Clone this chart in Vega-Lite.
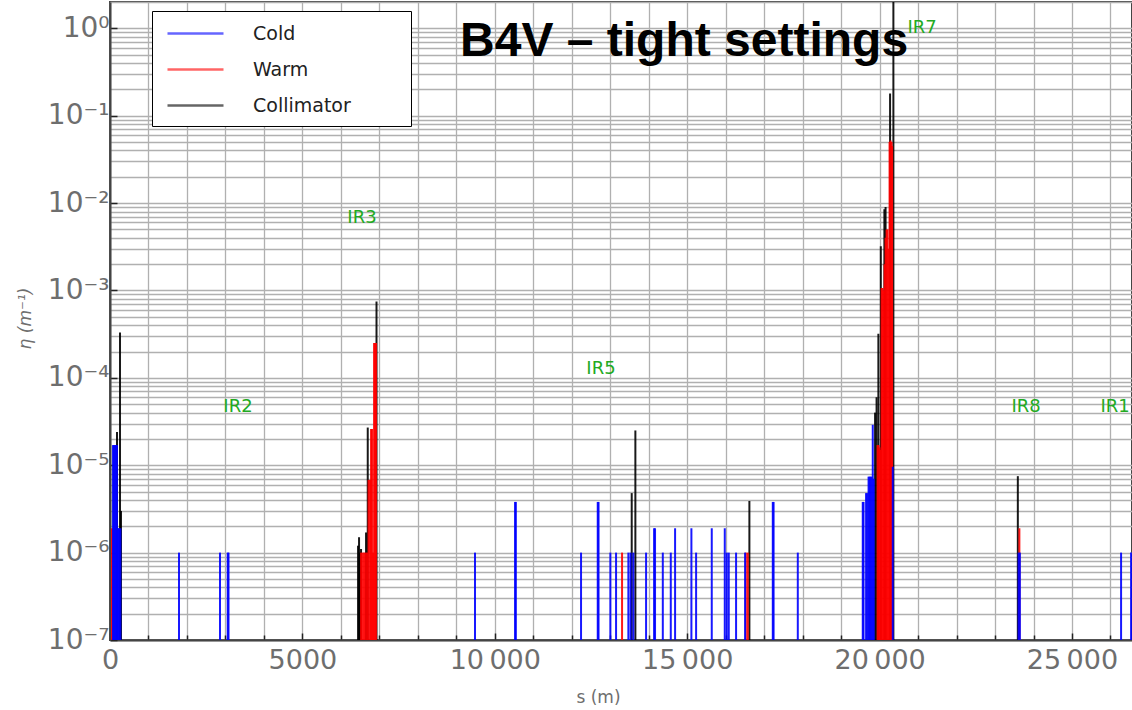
{
  "$schema": "https://vega.github.io/schema/vega-lite/v6.json",
  "width": 1022,
  "height": 638,
  "autosize": {"type": "none"},
  "padding": {"left": 110, "top": 2, "right": 0, "bottom": 70},
  "background": "white",
  "config": {
    "view": {"stroke": "#444444", "strokeWidth": 2},
    "font": "DejaVu Sans"
  },
  "datasets": {
    "losses": [
      {"s": 182, "eta": 2.4e-5, "type": "Collimator"},
      {"s": 260, "eta": 3.3e-4, "type": "Collimator"},
      {"s": 286, "eta": 3e-6, "type": "Collimator"},
      {"s": 6446, "eta": 1.2e-6, "type": "Collimator"},
      {"s": 6472, "eta": 1.5e-6, "type": "Collimator"},
      {"s": 6498, "eta": 1.0e-6, "type": "Collimator"},
      {"s": 6524, "eta": 1.1e-6, "type": "Collimator"},
      {"s": 6654, "eta": 1.7e-6, "type": "Collimator"},
      {"s": 6698, "eta": 2.7e-5, "type": "Collimator"},
      {"s": 6926, "eta": 7.5e-4, "type": "Collimator"},
      {"s": 13558, "eta": 4.8e-6, "type": "Collimator"},
      {"s": 13653, "eta": 2.5e-5, "type": "Collimator"},
      {"s": 16616, "eta": 3.9e-6, "type": "Collimator"},
      {"s": 19882, "eta": 4e-5, "type": "Collimator"},
      {"s": 19921, "eta": 6e-5, "type": "Collimator"},
      {"s": 19968, "eta": 3.2e-4, "type": "Collimator"},
      {"s": 20031, "eta": 3.2e-3, "type": "Collimator"},
      {"s": 20124, "eta": 8.5e-3, "type": "Collimator"},
      {"s": 20155, "eta": 9e-3, "type": "Collimator"},
      {"s": 20272, "eta": 0.18, "type": "Collimator"},
      {"s": 20358, "eta": 2.0, "type": "Collimator"},
      {"s": 23592, "eta": 7.5e-6, "type": "Collimator"},

      {"s": 52, "eta": 1.9e-6, "type": "Warm"},
      {"s": 6524, "eta": 1e-6, "type": "Warm"},
      {"s": 6563, "eta": 1e-6, "type": "Warm"},
      {"s": 6602, "eta": 1e-6, "type": "Warm"},
      {"s": 6641, "eta": 1e-6, "type": "Warm"},
      {"s": 6680, "eta": 1e-6, "type": "Warm"},
      {"s": 6719, "eta": 6.8e-6, "type": "Warm"},
      {"s": 6758, "eta": 6.8e-6, "type": "Warm"},
      {"s": 6784, "eta": 2.6e-5, "type": "Warm"},
      {"s": 6810, "eta": 2.6e-5, "type": "Warm"},
      {"s": 6836, "eta": 1e-6, "type": "Warm"},
      {"s": 6862, "eta": 2.5e-4, "type": "Warm"},
      {"s": 6888, "eta": 2.5e-4, "type": "Warm"},
      {"s": 6914, "eta": 2.5e-4, "type": "Warm"},
      {"s": 13307, "eta": 1e-6, "type": "Warm"},
      {"s": 16522, "eta": 1e-6, "type": "Warm"},
      {"s": 16574, "eta": 1e-6, "type": "Warm"},
      {"s": 19947, "eta": 1.7e-5, "type": "Warm"},
      {"s": 19973, "eta": 1.7e-5, "type": "Warm"},
      {"s": 19999, "eta": 1.6e-5, "type": "Warm"},
      {"s": 20025, "eta": 1.5e-5, "type": "Warm"},
      {"s": 20051, "eta": 1.07e-3, "type": "Warm"},
      {"s": 20077, "eta": 1.07e-3, "type": "Warm"},
      {"s": 20103, "eta": 1.0e-3, "type": "Warm"},
      {"s": 20129, "eta": 2e-3, "type": "Warm"},
      {"s": 20155, "eta": 4e-3, "type": "Warm"},
      {"s": 20181, "eta": 5e-3, "type": "Warm"},
      {"s": 20207, "eta": 5e-3, "type": "Warm"},
      {"s": 20233, "eta": 3e-3, "type": "Warm"},
      {"s": 20259, "eta": 0.05, "type": "Warm"},
      {"s": 20285, "eta": 0.052, "type": "Warm"},
      {"s": 20311, "eta": 0.05, "type": "Warm"},
      {"s": 20325, "eta": 0.045, "type": "Warm"},
      {"s": 23632, "eta": 1.9e-6, "type": "Warm"},

      {"s": 78, "eta": 1.7e-5, "type": "Cold"},
      {"s": 104, "eta": 1.7e-5, "type": "Cold"},
      {"s": 130, "eta": 1.7e-5, "type": "Cold"},
      {"s": 156, "eta": 1.7e-5, "type": "Cold"},
      {"s": 182, "eta": 1.7e-5, "type": "Cold"},
      {"s": 208, "eta": 1.9e-6, "type": "Cold"},
      {"s": 234, "eta": 1.9e-6, "type": "Cold"},
      {"s": 270, "eta": 1.9e-6, "type": "Cold"},
      {"s": 1793, "eta": 1e-6, "type": "Cold"},
      {"s": 2859, "eta": 1e-6, "type": "Cold"},
      {"s": 3059, "eta": 1e-6, "type": "Cold"},
      {"s": 3080, "eta": 1e-6, "type": "Cold"},
      {"s": 9486, "eta": 1e-6, "type": "Cold"},
      {"s": 10526, "eta": 3.8e-6, "type": "Cold"},
      {"s": 10547, "eta": 3.8e-6, "type": "Cold"},
      {"s": 12241, "eta": 1e-6, "type": "Cold"},
      {"s": 12675, "eta": 3.8e-6, "type": "Cold"},
      {"s": 12696, "eta": 3.8e-6, "type": "Cold"},
      {"s": 13003, "eta": 1e-6, "type": "Cold"},
      {"s": 13151, "eta": 1e-6, "type": "Cold"},
      {"s": 13471, "eta": 1e-6, "type": "Cold"},
      {"s": 13528, "eta": 1e-6, "type": "Cold"},
      {"s": 13601, "eta": 1e-6, "type": "Cold"},
      {"s": 13931, "eta": 1e-6, "type": "Cold"},
      {"s": 14139, "eta": 1.9e-6, "type": "Cold"},
      {"s": 14164, "eta": 1.9e-6, "type": "Cold"},
      {"s": 14366, "eta": 1e-6, "type": "Cold"},
      {"s": 14573, "eta": 1e-6, "type": "Cold"},
      {"s": 14685, "eta": 1.9e-6, "type": "Cold"},
      {"s": 15109, "eta": 1.9e-6, "type": "Cold"},
      {"s": 15231, "eta": 1e-6, "type": "Cold"},
      {"s": 15638, "eta": 1.9e-6, "type": "Cold"},
      {"s": 15976, "eta": 1.9e-6, "type": "Cold"},
      {"s": 16028, "eta": 1e-6, "type": "Cold"},
      {"s": 16080, "eta": 1e-6, "type": "Cold"},
      {"s": 16270, "eta": 1e-6, "type": "Cold"},
      {"s": 16504, "eta": 1e-6, "type": "Cold"},
      {"s": 17224, "eta": 3.8e-6, "type": "Cold"},
      {"s": 17245, "eta": 3.8e-6, "type": "Cold"},
      {"s": 17874, "eta": 1e-6, "type": "Cold"},
      {"s": 19562, "eta": 3.8e-6, "type": "Cold"},
      {"s": 19583, "eta": 3.8e-6, "type": "Cold"},
      {"s": 19648, "eta": 4.8e-6, "type": "Cold"},
      {"s": 19682, "eta": 4.8e-6, "type": "Cold"},
      {"s": 19713, "eta": 7.4e-6, "type": "Cold"},
      {"s": 19739, "eta": 7.4e-6, "type": "Cold"},
      {"s": 19765, "eta": 7.4e-6, "type": "Cold"},
      {"s": 19791, "eta": 7.4e-6, "type": "Cold"},
      {"s": 19822, "eta": 2.9e-5, "type": "Cold"},
      {"s": 19848, "eta": 7e-6, "type": "Cold"},
      {"s": 20342, "eta": 9.6e-6, "type": "Cold"},
      {"s": 23612, "eta": 1e-6, "type": "Cold"},
      {"s": 23645, "eta": 1e-6, "type": "Cold"},
      {"s": 26275, "eta": 1e-6, "type": "Cold"},
      {"s": 26535, "eta": 1e-6, "type": "Cold"}
    ],
    "regions": [
      {"s": 3326, "eta": 4.6e-5, "label": "IR2"},
      {"s": 6549, "eta": 6.7e-3, "label": "IR3"},
      {"s": 12760, "eta": 1.26e-4, "label": "IR5"},
      {"s": 21104, "eta": 1.0, "label": "IR7"},
      {"s": 23807, "eta": 4.6e-5, "label": "IR8"},
      {"s": 26120, "eta": 4.6e-5, "label": "IR1"}
    ],
    "heading": [
      {"s": 9096, "eta": 0.478, "label": "B4V – tight settings"}
    ]
  },
  "encoding": {
    "x": {
      "field": "s",
      "type": "quantitative",
      "scale": {"domain": [0, 26559], "nice": false, "zero": false},
      "axis": {
        "values": [0, 1000, 2000, 3000, 4000, 5000, 6000, 7000, 8000, 9000, 10000, 11000, 12000, 13000, 14000, 15000, 16000, 17000, 18000, 19000, 20000, 21000, 22000, 23000, 24000, 25000, 26000],
        "labelExpr": "datum.value % 5000 === 0 ? (datum.value >= 10000 ? format(floor(datum.value / 1000), 'd') + '\u2009000' : format(datum.value, 'd')) : ''",
        "grid": true,
        "gridColor": "#b0b0b0",
        "gridWidth": 1.3,
        "domainColor": "#444444",
        "domainWidth": 2,
        "tickColor": "#222222",
        "tickWidth": 1.5,
        "tickSize": {"condition": {"test": "datum.value % 5000 === 0", "value": -7}, "value": -5},
        "labelFontSize": 27,
        "labelColor": "#6e6e6e",
        "labelPadding": 14,
        "labelOverlap": false,
        "labelFlush": false,
        "title": "s (m)",
        "titleFontSize": 17,
        "titleFontWeight": "normal",
        "titleColor": "#6e6e6e",
        "titleX": 488,
        "titleY": 57,
        "titleBaseline": "middle"
      }
    },
    "y": {
      "field": "eta",
      "type": "quantitative",
      "scale": {"type": "log", "domain": [1e-7, 2], "nice": false},
      "axis": {
        "values": [1e-7, 2e-7, 3e-7, 4e-7, 5e-7, 6e-7, 7e-7, 8e-7, 9e-7,
                   1e-6, 2e-6, 3e-6, 4e-6, 5e-6, 6e-6, 7e-6, 8e-6, 9e-6,
                   1e-5, 2e-5, 3e-5, 4e-5, 5e-5, 6e-5, 7e-5, 8e-5, 9e-5,
                   1e-4, 2e-4, 3e-4, 4e-4, 5e-4, 6e-4, 7e-4, 8e-4, 9e-4,
                   1e-3, 2e-3, 3e-3, 4e-3, 5e-3, 6e-3, 7e-3, 8e-3, 9e-3,
                   1e-2, 2e-2, 3e-2, 4e-2, 5e-2, 6e-2, 7e-2, 8e-2, 9e-2,
                   0.1, 0.2, 0.3, 0.4, 0.5, 0.6, 0.7, 0.8, 0.9, 1, 2],
        "labelExpr": "abs(log(datum.value) / LN10 - round(log(datum.value) / LN10)) < 0.001 ? ['10⁰', '10⁻¹', '10⁻²', '10⁻³', '10⁻⁴', '10⁻⁵', '10⁻⁶', '10⁻⁷'][abs(round(log(datum.value) / LN10))] : ''",
        "grid": true,
        "gridColor": "#b0b0b0",
        "gridWidth": 1.3,
        "domainColor": "#444444",
        "domainWidth": 2,
        "tickColor": "#222222",
        "tickWidth": 1.5,
        "tickSize": {"condition": {"test": "abs(log(datum.value) / LN10 - round(log(datum.value) / LN10)) < 0.001", "value": -7}, "value": 0},
        "labelFontSize": 28,
        "labelColor": "#6e6e6e",
        "labelPadding": 8,
        "labelOverlap": false,
        "labelFlush": false,
        "title": "η (m⁻¹)",
        "titleFontSize": 17,
        "titleFontWeight": "normal",
        "titleFontStyle": "italic",
        "titleColor": "#6e6e6e",
        "titleX": -85,
        "titleY": 316,
        "titleBaseline": "middle"
      }
    }
  },
  "layer": [
    {
      "data": {"name": "losses"},
      "mark": {"type": "rule", "strokeWidth": 2, "opacity": 0.9, "clip": true},
      "encoding": {
        "y2": {"datum": 1e-7},
        "color": {
          "field": "type",
          "type": "nominal",
          "scale": {"domain": ["Cold", "Warm", "Collimator"], "range": ["#0000ff", "#ff0000", "#000000"]},
          "legend": {
            "orient": "none",
            "legendX": 42,
            "legendY": 9,
            "title": " ",
            "titleOrient": "right",
            "titlePadding": 50,
            "titleFontSize": 4,
            "symbolType": "M-2.5,0H2.5",
            "symbolSize": 502,
            "symbolStrokeWidth": 2.5,
            "symbolOpacity": 0.6,
            "symbolOffset": 21,
            "labelOffset": 45,
            "labelFontSize": 19,
            "labelFont": "DejaVu Sans",
            "labelColor": "#222222",
            "padding": 10,
            "rowPadding": 13,
            "strokeColor": "#000000",
            "fillColor": "#ffffff",
            "cornerRadius": 0
          }
        }
      }
    },
    {
      "data": {"name": "regions"},
      "mark": {"type": "text", "color": "#22aa22", "fontSize": 18, "font": "DejaVu Sans", "align": "center", "baseline": "middle"},
      "encoding": {
        "text": {"field": "label"}
      }
    },
    {
      "data": {"name": "heading"},
      "mark": {"type": "text", "color": "#000000", "fontSize": 48, "fontWeight": "bold", "font": "Liberation Sans", "align": "left", "baseline": "alphabetic"},
      "encoding": {
        "text": {"field": "label"}
      }
    }
  ]
}
